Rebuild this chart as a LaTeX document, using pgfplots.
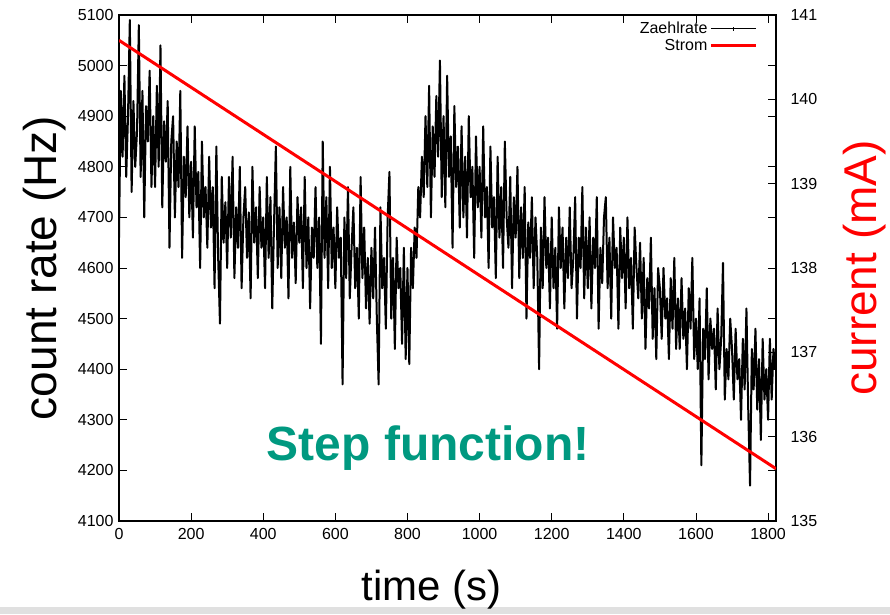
\documentclass[border=0pt]{standalone}
\usepackage{fontspec}
\setmainfont{Liberation Sans}
\usepackage{pgfplots}
\pgfplotsset{compat=1.18}
\definecolor{stepteal}{RGB}{0,153,128}

\begin{document}
\begin{tikzpicture}
\fill[black!12] (-119pt,-93pt) rectangle (771pt,-86pt);
\begin{axis}[
    at={(0,0)}, anchor=south west,
    scale only axis, width=657pt, height=506pt,
    xmin=0, xmax=1822, ymin=4100, ymax=5100,
    xtick={0,200,...,1800}, ytick={4100,4200,...,5100},
    xtick pos=both, ytick pos=both, tick align=inside,
    major tick length=8pt, axis line style={line width=1.2pt},
    tick style={line width=0.9pt, black},
    /pgf/number format/1000 sep={}, /pgf/number format/assume math mode=true,
    ticklabel style={font=\fontsize{16}{17}\selectfont},
    yticklabel style={xshift=-2pt}, xticklabel style={yshift=-4pt},
    xlabel={time (s)}, ylabel={count rate (Hz)},
    xlabel style={font=\fontsize{42}{44}\selectfont, at={(axis description cs:0.476,-0.136)}, anchor=center},
    ylabel style={font=\fontsize{46}{48}\selectfont, at={(axis description cs:-0.1126,0.5)}, anchor=center},
  ]
  \addplot[black, line width=2pt, line join=round] coordinates {
    (0,4660)(5,4950)(10,4820)(15,4980)(20,4780)(25,4900)(30,5090)(35,4750)(40,4930)(45,4800)
    (50,4870)(55,5080)(60,4780)(65,4950)(70,4700)(75,4920)(80,4850)(85,4990)(90,4760)(95,4900)
    (100,4760)(105,4960)(110,4800)(115,5040)(120,4720)(125,4890)(130,4810)(135,4930)(140,4640)(145,4850)
    (150,4900)(155,4700)(160,4850)(165,4760)(170,4950)(175,4620)(180,4820)(185,4740)(190,4880)(195,4700)
    (200,4810)(205,4660)(210,4880)(215,4720)(220,4790)(225,4600)(230,4850)(235,4700)(240,4760)(245,4640)
    (250,4820)(255,4680)(260,4760)(265,4560)(270,4840)(275,4620)(280,4490)(285,4780)(290,4650)(295,4730)
    (300,4600)(305,4780)(310,4660)(315,4820)(320,4580)(325,4720)(330,4640)(335,4800)(340,4560)(345,4700)
    (350,4760)(355,4620)(360,4710)(365,4540)(370,4800)(375,4650)(380,4720)(385,4580)(390,4760)(395,4640)
    (400,4700)(405,4560)(410,4780)(415,4620)(420,4740)(425,4520)(430,4690)(435,4840)(440,4600)(445,4720)
    (450,4580)(455,4760)(460,4640)(465,4700)(470,4540)(475,4800)(480,4620)(485,4690)(490,4570)(495,4740)
    (500,4650)(505,4720)(510,4560)(515,4780)(520,4600)(525,4700)(530,4520)(535,4680)(540,4620)(545,4760)
    (550,4600)(555,4700)(560,4450)(565,4850)(570,4620)(575,4740)(580,4560)(585,4800)(590,4600)(595,4680)
    (600,4560)(605,4720)(610,4620)(615,4660)(620,4370)(625,4700)(630,4580)(635,4760)(640,4540)(645,4640)
    (650,4720)(655,4560)(660,4640)(665,4500)(670,4780)(675,4580)(680,4680)(685,4520)(690,4620)(695,4490)
    (700,4640)(705,4540)(710,4680)(715,4500)(720,4370)(725,4720)(730,4560)(735,4620)(740,4480)(745,4700)
    (750,4790)(755,4500)(760,4620)(765,4440)(770,4660)(775,4560)(780,4600)(785,4450)(790,4640)(795,4420)
    (800,4600)(805,4410)(810,4640)(815,4560)(820,4680)(825,4620)(830,4760)(835,4700)(840,4820)(845,4740)
    (850,4900)(855,4760)(860,4960)(865,4700)(870,4880)(875,4780)(880,4940)(885,4820)(890,5010)(895,4740)
    (900,4900)(905,4720)(910,4980)(915,4780)(920,4860)(925,4640)(930,4920)(935,4760)(940,4840)(945,4680)
    (950,4880)(955,4700)(960,4820)(965,4660)(970,4900)(975,4740)(980,4800)(985,4620)(990,4860)(995,4720)
    (1000,4800)(1005,4660)(1010,4880)(1015,4700)(1020,4760)(1025,4600)(1030,4840)(1035,4680)(1040,4740)(1045,4580)
    (1050,4820)(1055,4660)(1060,4760)(1065,4600)(1070,4850)(1075,4700)(1080,4640)(1085,4780)(1090,4560)(1095,4740)
    (1100,4660)(1105,4800)(1110,4580)(1115,4720)(1120,4620)(1125,4760)(1130,4500)(1135,4690)(1140,4620)(1145,4740)
    (1150,4560)(1155,4700)(1160,4620)(1165,4400)(1170,4680)(1175,4560)(1180,4740)(1185,4600)(1190,4660)(1195,4520)
    (1200,4700)(1205,4560)(1210,4640)(1215,4480)(1220,4720)(1225,4600)(1230,4680)(1235,4520)(1240,4660)(1245,4580)
    (1250,4720)(1255,4560)(1260,4620)(1265,4740)(1270,4500)(1275,4660)(1280,4600)(1285,4760)(1290,4540)(1295,4680)
    (1300,4560)(1305,4700)(1310,4520)(1315,4660)(1320,4600)(1325,4740)(1330,4480)(1335,4640)(1340,4570)(1345,4700)
    (1350,4740)(1355,4560)(1360,4660)(1365,4500)(1370,4700)(1375,4600)(1380,4640)(1385,4480)(1390,4680)(1395,4580)
    (1400,4660)(1405,4520)(1410,4700)(1415,4560)(1420,4620)(1425,4480)(1430,4680)(1435,4600)(1440,4540)(1445,4650)
    (1450,4500)(1455,4620)(1460,4440)(1465,4580)(1470,4520)(1475,4660)(1480,4460)(1485,4560)(1490,4420)(1495,4600)
    (1500,4560)(1505,4460)(1510,4600)(1515,4500)(1520,4540)(1525,4420)(1530,4580)(1535,4480)(1540,4620)(1545,4440)
    (1550,4540)(1555,4440)(1560,4580)(1565,4460)(1570,4520)(1575,4400)(1580,4560)(1585,4480)(1590,4620)(1595,4420)
    (1600,4500)(1605,4400)(1610,4540)(1615,4210)(1620,4480)(1625,4420)(1630,4560)(1635,4380)(1640,4500)(1645,4440)
    (1650,4480)(1655,4360)(1660,4520)(1665,4400)(1670,4460)(1675,4610)(1680,4340)(1685,4440)(1690,4380)(1695,4500)
    (1700,4440)(1705,4340)(1710,4480)(1715,4380)(1720,4420)(1725,4300)(1730,4460)(1735,4360)(1740,4520)(1745,4320)
    (1750,4170)(1755,4440)(1760,4360)(1765,4480)(1770,4320)(1775,4420)(1780,4260)(1785,4460)(1790,4340)(1795,4400)
    (1800,4300)(1805,4460)(1810,4340)(1815,4440)(1820,4400)
  };
  \node[font=\fontsize{48}{50}\selectfont\bfseries, text=stepteal] at (axis cs:857,4244) {Step function!};
\end{axis}
\begin{axis}[
    at={(0,0)}, anchor=south west,
    scale only axis, width=657pt, height=506pt,
    xmin=0, xmax=1822, ymin=135, ymax=141,
    axis x line=none, axis y line*=right,
    ytick={135,...,141}, ytick pos=right, tick align=inside,
    major tick length=8pt, axis line style={line width=1.2pt},
    tick style={line width=0.9pt, black},
    /pgf/number format/assume math mode=true,
    ticklabel style={font=\fontsize{16}{17}\selectfont},
    yticklabel style={xshift=11pt},
    ylabel={current (mA)},
    ylabel style={font=\fontsize{46}{48}\selectfont, text=red, at={(axis description cs:1.1355,0.5)}, anchor=center},
    legend plot pos=right, legend cell align=right,
    legend style={at={(rel axis cs:0.972,0.99)}, anchor=north east, draw=none, fill=none,
      font=\fontsize{16}{16}\selectfont, row sep=0pt, inner sep=0pt},
    legend image code/.code={\draw[#1] (0pt,0pt) -- (45pt,0pt);},
  ]
  \addlegendimage{legend image code/.code={\draw[black, line width=1pt] (0pt,0pt) -- (45pt,0pt); \draw[black, line width=0.8pt] (22.5pt,-2pt) -- (22.5pt,2pt);}}
  \addlegendentry{Zaehlrate}
  \addplot[red, line width=3pt] coordinates {(0,140.70)(1822,135.62)};
  \addlegendentry{Strom}
\end{axis}
\pgfresetboundingbox
\path[use as bounding box] (-119pt,-93pt) rectangle (771pt,521pt);
\end{tikzpicture}
\end{document}
